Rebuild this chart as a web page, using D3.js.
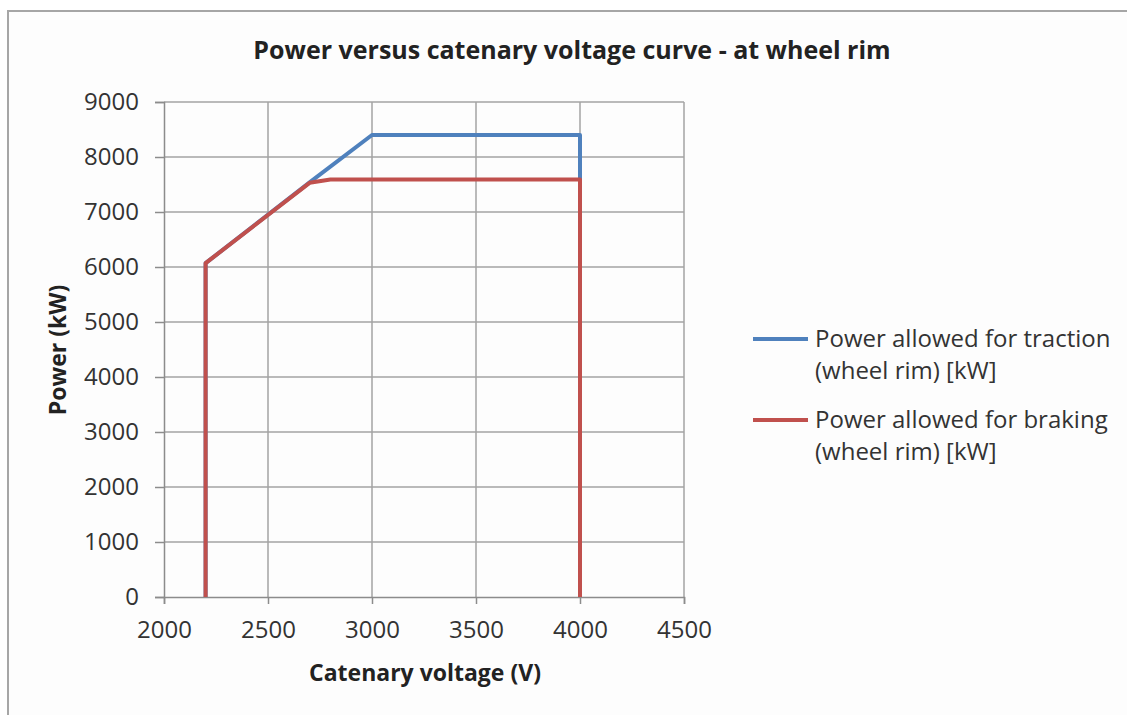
<!DOCTYPE html>
<html>
<head>
<meta charset="utf-8">
<script src="https://cdn.jsdelivr.net/npm/d3@7"></script>
<style>
  body { margin: 0; background: #fff; }
  svg { display: block; font-family: "Open Sans", sans-serif; }
</style>
</head>
<body>
<svg id="chart" width="1127" height="715"></svg>
<script>
// data
const xTicks = [2000, 2500, 3000, 3500, 4000, 4500];
const yTicks = [0, 1000, 2000, 3000, 4000, 5000, 6000, 7000, 8000, 9000];

const tractionVoltage = [2200, 2200, 2700, 3000, 4000, 4000];
const tractionPower   = [0, 6070, 7540, 8400, 8400, 0];

const brakingVoltage = [2200, 2200, 2700, 2800, 4000, 4000];
const brakingPower   = [0, 6070, 7530, 7590, 7590, 0];

const seriesNames = [
    ["Power allowed for traction", "(wheel rim) [kW]"],
    ["Power allowed for braking", "(wheel rim) [kW]"]
];
const seriesColours = ["#4f81bd", "#c0504d"];

const svg = d3.select("#chart");

// chart frame
svg.append("rect")
    .attr("x", 0).attr("y", 0).attr("width", 1127).attr("height", 715)
    .attr("fill", "#ffffff");
svg.append("rect")
    .attr("x", 8).attr("y", 11).attr("width", 1140).attr("height", 720)
    .attr("fill", "#fdfdfd")
    .attr("stroke", "#a6a6a6")
    .attr("stroke-width", 2);

const plot = { l: 164, r: 684, t: 102, b: 597 };

let x = d3.scaleLinear().domain([2000, 4500]).range([plot.l, plot.r]);
let y = d3.scaleLinear().domain([0, 9000]).range([plot.b, plot.t]);

// gridlines
let grid = svg.append("g").attr("class", "grid");
grid.selectAll(".gx")
    .data(xTicks.slice(1))
    .join("line")
    .attr("x1", d => x(d)).attr("x2", d => x(d))
    .attr("y1", plot.t).attr("y2", plot.b)
    .attr("stroke", "#a3a3a3").attr("stroke-width", 1.5);
grid.selectAll(".gy")
    .data(yTicks.slice(1))
    .join("line")
    .attr("x1", plot.l).attr("x2", plot.r)
    .attr("y1", d => y(d)).attr("y2", d => y(d))
    .attr("stroke", "#a3a3a3").attr("stroke-width", 1.5);

// axes
let xAxis = svg.append("g")
    .attr("transform", `translate(0,${plot.b})`)
    .call(d3.axisBottom(x).tickValues(xTicks).tickSize(7).tickPadding(17).tickFormat(d3.format("d")));
let yAxis = svg.append("g")
    .attr("transform", `translate(${plot.l},0)`)
    .call(d3.axisLeft(y).tickValues(yTicks).tickSize(9).tickPadding(16).tickFormat(d3.format("d")));

[xAxis, yAxis].forEach(a => {
    a.select(".domain").attr("stroke", "#8c8c8c").attr("stroke-width", 1.5);
    a.selectAll(".tick line").attr("stroke", "#8c8c8c").attr("stroke-width", 1.5);
    a.selectAll(".tick text")
        .attr("fill", "#333")
        .style("font-size", "24px")
        .style("font-family", "Open Sans, sans-serif");
});

// series
let line = d3.line().x(d => x(d[0])).y(d => y(d[1]));
let series = [
    d3.zip(tractionVoltage, tractionPower),
    d3.zip(brakingVoltage, brakingPower)
];
svg.append("g").selectAll("path")
    .data(series)
    .join("path")
    .attr("d", line)
    .attr("fill", "none")
    .attr("stroke", (d, i) => seriesColours[i])
    .attr("stroke-width", 4)
    .attr("stroke-linejoin", "round");

// titles
svg.append("text")
    .attr("x", 572).attr("y", 59)
    .attr("text-anchor", "middle")
    .attr("font-weight", "bold")
    .attr("fill", "#222")
    .style("font-size", "25px")
    .text("Power versus catenary voltage curve - at wheel rim");
svg.append("text")
    .attr("x", 425).attr("y", 681)
    .attr("text-anchor", "middle")
    .attr("font-weight", "bold")
    .attr("fill", "#222")
    .style("font-size", "23px")
    .text("Catenary voltage (V)");
svg.append("text")
    .attr("transform", "translate(66,350) rotate(-90)")
    .attr("text-anchor", "middle")
    .attr("font-weight", "bold")
    .attr("fill", "#222")
    .style("font-size", "23px")
    .text("Power (kW)");

// legend
let legend = svg.append("g").selectAll("g")
    .data(seriesNames)
    .join("g")
    .attr("transform", (d, i) => `translate(753,${339 + i * 81})`);
legend.append("line")
    .attr("x1", 0).attr("x2", 55)
    .attr("stroke", (d, i) => seriesColours[i])
    .attr("stroke-width", 4);
legend.append("text")
    .attr("x", 62).attr("y", 8)
    .attr("fill", "#333")
    .style("font-size", "24px")
    .selectAll("tspan")
    .data(d => d)
    .join("tspan")
    .attr("x", 62)
    .attr("dy", (d, i) => i ? 32 : 0)
    .text(d => d);
</script>
</body>
</html>
